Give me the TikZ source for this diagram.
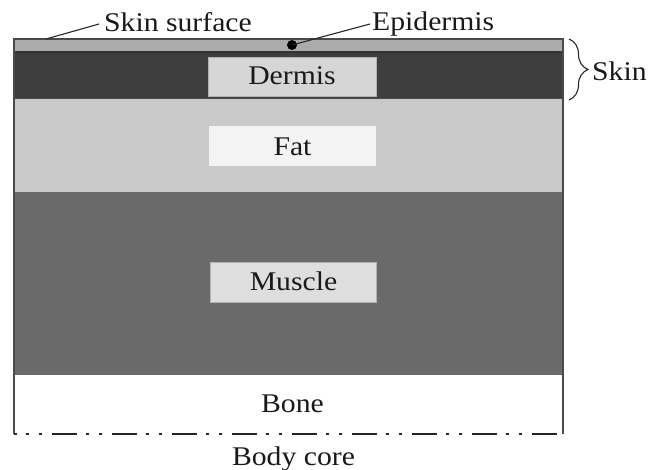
\documentclass[tikz,border=0pt]{standalone}
\usepackage{fontspec}
\setmainfont{Liberation Serif}
\usetikzlibrary{decorations.pathreplacing}
\definecolor{epi}{HTML}{ABABAB}
\definecolor{derm}{HTML}{3E3E3E}
\definecolor{fatc}{HTML}{C9C9C9}
\definecolor{musc}{HTML}{6A6A6A}
\definecolor{dbox}{HTML}{D6D6D6}
\definecolor{fbox}{HTML}{F3F3F3}
\definecolor{mbox}{HTML}{DEDEDE}
\definecolor{frame}{HTML}{4A4A4A}
\newcommand{\ltxt}[1]{\scalebox{1.1}[1]{#1}}
\begin{document}
\begin{tikzpicture}[x=1pt,y=-1pt,
  lbl/.style={font=\fontsize{27}{30}\selectfont, inner sep=0pt, anchor=base, text=black!90},
  box/.style={draw=gray!60, line width=0.6pt, inner sep=0pt},
  leader/.style={draw=black!85, line width=1.1pt},
  framestyle/.style={draw=frame, line width=1.4pt},
  corestyle/.style={draw=black!85, line width=2.8pt, dash pattern=on 25pt off 9pt on 3pt off 10pt on 3pt off 10pt, dash phase=22pt}]
\useasboundingbox (0,0) rectangle (650,470);
\fill[white] (0,0) rectangle (650,470);
% layers
\fill[epi] (14,39) rectangle (563,52);
\fill[derm] (14,52) rectangle (563,99);
\fill[fatc] (14,99) rectangle (563,192);
\fill[musc] (14,192) rectangle (563,375);
\draw[draw=black!80, line width=1.2pt] (14,52) -- (563,52);
\draw[draw=black!70, line width=1pt] (14,99) -- (563,99);
\draw[framestyle] (14,434) -- (14,39) -- (563,39) -- (563,434);
\coordinate (coreL) at (14,434);
\coordinate (coreR) at (563,434);
\draw[corestyle] (coreL) -- (coreR);
% boxes
\node[box, fill=dbox, minimum width=168pt, minimum height=39pt] (dermisbox) at (292,76.5) {};
\node[lbl] (dermis) at (292,85) {\ltxt{Dermis}};
\node[box, fill=fbox, draw=none, minimum width=167pt, minimum height=40pt] (fatbox) at (292.5,146) {};
\node[lbl] (fat) at (292.5,156) {\ltxt{Fat}};
\node[box, fill=mbox, minimum width=166pt, minimum height=40pt] (musclebox) at (293.5,282) {};
\node[lbl] (muscle) at (293.5,290) {\ltxt{Muscle}};
\node[lbl] (bone) at (292.5,412) {\ltxt{Bone}};
\node[lbl] (core) at (293.5,465) {\ltxt{Body core}};
% top labels
\node[lbl, anchor=base west] (surface) at (104,32) {\ltxt{Skin surface}};
\node[lbl, anchor=base west] (epidermis) at (372,31) {\ltxt{Epidermis}};
\coordinate (surfpt) at (46,39);
\coordinate (surfend) at (99,24);
\draw[leader] (surfpt) -- (surfend);
\node[circle, fill=black, inner sep=0pt, minimum size=10pt] (epidot) at (292,45) {};
\coordinate (epiend) at (370,24);
\draw[leader] (epidot.center) -- (epiend);
% brace
\coordinate (braceT) at (569,39);
\coordinate (braceB) at (569,100);
\draw[draw=black!85, line width=1.1pt, decorate, decoration={brace, amplitude=19pt}] (braceT) -- (braceB);
\node[lbl, anchor=west] (skin) at (592,71) {\ltxt{Skin}};
\end{tikzpicture}
\end{document}
